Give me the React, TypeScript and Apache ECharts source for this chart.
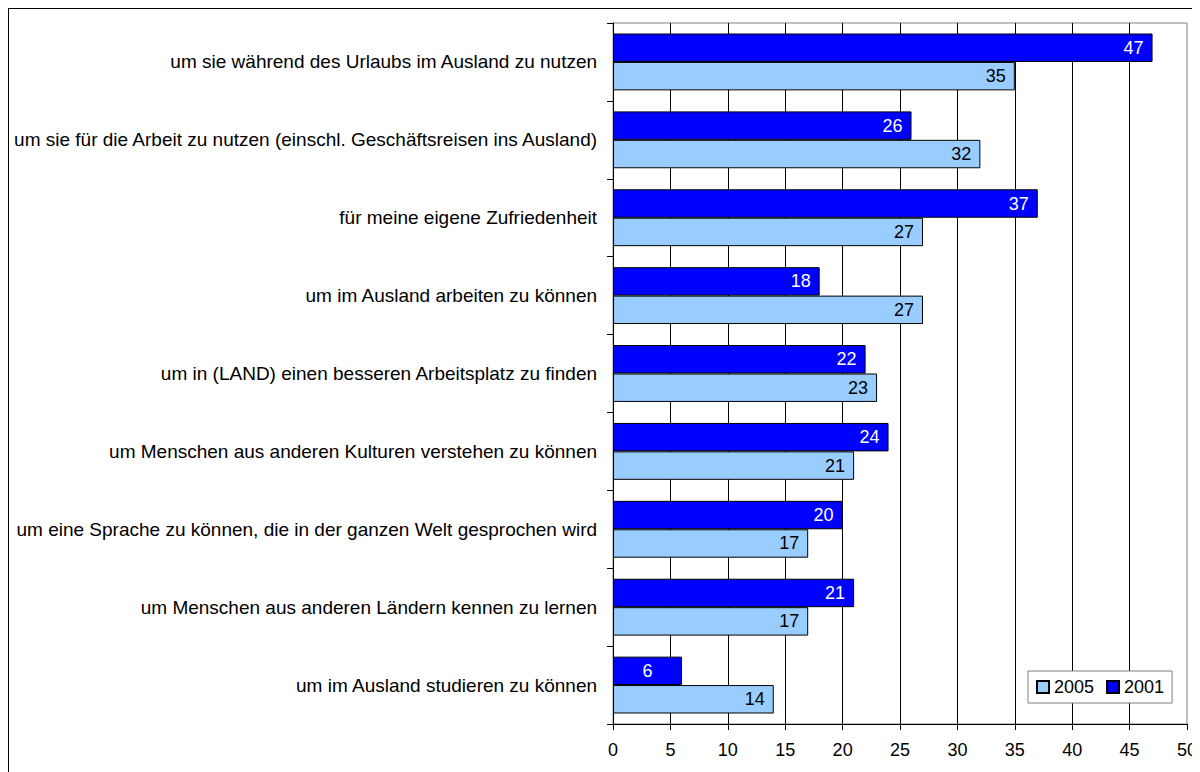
import React, { useEffect, useRef } from 'react';
import * as echarts from 'echarts';

const categories = [
  'um sie während des Urlaubs im Ausland zu nutzen',
  'um sie für die Arbeit zu nutzen (einschl. Geschäftsreisen ins Ausland)',
  'für meine eigene Zufriedenheit',
  'um im Ausland arbeiten zu können',
  'um in (LAND) einen besseren Arbeitsplatz zu finden',
  'um Menschen aus anderen Kulturen verstehen zu können',
  'um eine Sprache zu können, die in der ganzen Welt gesprochen wird',
  'um Menschen aus anderen Ländern kennen zu lernen',
  'um im Ausland studieren zu können',
];
const values2001 = [47, 26, 37, 18, 22, 24, 20, 21, 6];
const values2005 = [35, 32, 27, 27, 23, 21, 17, 17, 14];
const seriesNames = ['2001', '2005'];
const legendOrder = ['2005', '2001'];
const xMin = 0;
const xMax = 50;
const xInterval = 5;

const FONT = '"Liberation Sans", Arial, sans-serif';

function buildData(values: number[]) {
  return values.map((v) => (v < 10 ? { value: v, label: { position: 'inside' } } : v));
}

export default function App() {
  const ref = useRef<HTMLDivElement>(null);
  useEffect(() => {
    document.body.style.overflow = 'hidden';
    const chart = echarts.init(ref.current!, null, { renderer: 'svg' });
    chart.setOption({
      animation: false,
      backgroundColor: '#fff',
      textStyle: { fontFamily: FONT },
      grid: {
        left: 602,
        top: 14,
        right: 11,
        bottom: 48,
        show: true,
        borderColor: '#808080',
        borderWidth: 1,
        containLabel: false,
      },
      legend: {
        data: legendOrder,
        left: 1019,
        top: 662,
        orient: 'horizontal',
        backgroundColor: '#fff',
        borderColor: '#808080',
        borderWidth: 1,
        borderRadius: 0,
        padding: [7, 8, 7, 8],
        itemWidth: 12,
        itemHeight: 12,
        itemGap: 12,
        icon: 'rect',
        textStyle: { fontSize: 18, color: '#000', fontFamily: FONT },
      },
      xAxis: {
        type: 'value',
        min: xMin,
        max: xMax,
        interval: xInterval,
        axisLine: { show: true, lineStyle: { color: '#000', width: 1 } },
        axisTick: { show: true, length: 6, lineStyle: { color: '#000' } },
        axisLabel: { fontSize: 18, color: '#000', margin: 17, fontFamily: FONT },
        splitLine: {
          show: true,
          showMinLine: false,
          showMaxLine: false,
          lineStyle: { color: '#000', width: 1 },
        },
      },
      yAxis: {
        type: 'category',
        data: categories,
        inverse: true,
        axisLine: { show: true, lineStyle: { color: '#000', width: 1 } },
        axisTick: { show: true, length: 6, lineStyle: { color: '#000' } },
        axisLabel: { fontSize: 19, color: '#000', margin: 16, fontFamily: FONT },
        splitLine: { show: false },
      },
      series: [
        {
          name: seriesNames[0],
          type: 'bar',
          data: buildData(values2001),
          barGap: '0%',
          barCategoryGap: '27%',
          itemStyle: { color: '#0000FF', borderColor: '#000', borderWidth: 1 },
          label: {
            show: true,
            position: 'insideRight',
            distance: 9,
            color: '#fff',
            fontSize: 18,
            fontFamily: FONT,
          },
        },
        {
          name: seriesNames[1],
          type: 'bar',
          data: buildData(values2005),
          barGap: '0%',
          barCategoryGap: '27%',
          itemStyle: { color: '#99CCFF', borderColor: '#000', borderWidth: 1 },
          label: {
            show: true,
            position: 'insideRight',
            distance: 9,
            color: '#000',
            fontSize: 18,
            fontFamily: FONT,
          },
        },
      ],
    });
    return () => chart.dispose();
  }, []);
  return (
    <div style={{ width: 1200, height: 772, border: '1px solid #000', background: '#fff' }}>
      <div ref={ref} style={{ width: 1191, height: 763 }} />
    </div>
  );
}
